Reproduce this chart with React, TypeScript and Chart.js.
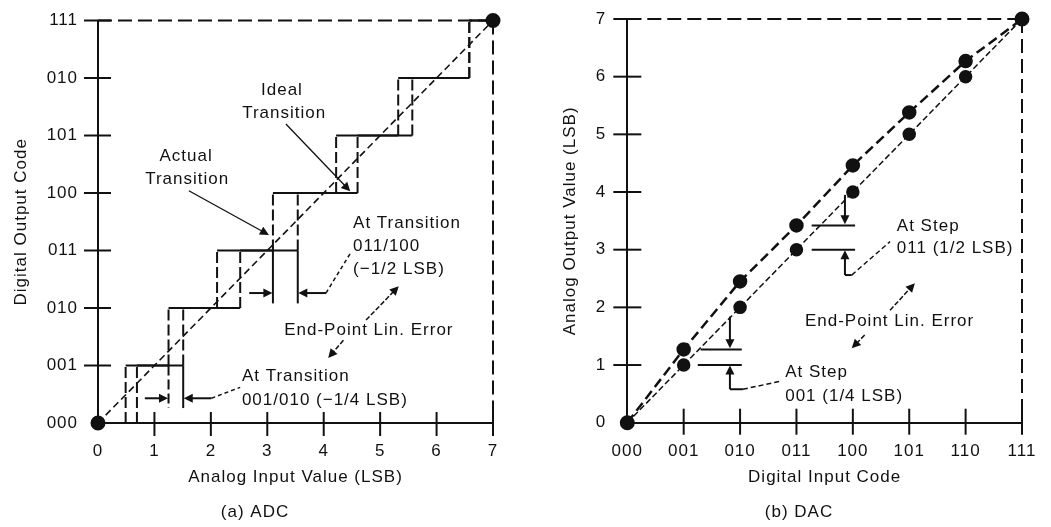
import React, { useEffect, useRef } from 'react';
import { Chart, registerables } from 'chart.js';

Chart.register(...registerables);

const INK = '#111111';
const FONT = '"Liberation Sans", Arial, sans-serif';

// ---------------- ADC panel data ----------------
const adcInputTicks = ['0', '1', '2', '3', '4', '5', '6', '7'];
const adcOutputCodes = ['000', '001', '010', '011', '100', '101', '010', '111'];
// code transition points (LSB) of the two staircases
const adcStairSolidTransitions = [0.49, 1.25, 2.11, 3.1, 4.22, 5.32, 6.58];
const adcStairDashedTransitions = [0.69, 1.51, 2.52, 3.54, 4.6, 5.57, 6.58];
const adcLineInput = [0, 7];
const adcLineOutput = [0, 7];
const adcFullScale = 7;

// ---------------- DAC panel data ----------------
const dacInputCodes = ['000', '001', '010', '011', '100', '101', '110', '111'];
const dacOutputTicks = ['0', '1', '2', '3', '4', '5', '6', '7'];
const dacIdealOutput = [0, 1, 2, 3, 4, 5, 6, 7];
const dacActualOutput = [0, 1.27, 2.45, 3.42, 4.46, 5.38, 6.27, 7];
const dacFullScale = 7;

type P = [number, number];
type Seg = { pts: P[]; head?: boolean; dash?: number[]; w?: number };
type Label = { text: string; x: number; y: number; align: CanvasTextAlign };

// annotation geometry in data units
const adcSegments: Seg[] = [
  { pts: [[1.25, 1], [1.25, 0.26]], dash: [10, 4] },
  { pts: [[1.51, 1], [1.51, 0.26]] },
  { pts: [[3.1, 3], [3.1, 2.08]] },
  { pts: [[3.54, 3], [3.54, 2.08]] },
  { pts: [[0.83, 0.43], [1.24, 0.43]], head: true },
  { pts: [[2.01, 0.43], [1.52, 0.43]], head: true },
  { pts: [[2.01, 0.43], [2.52, 0.62]], dash: [4, 3], w: 1.5 },
  { pts: [[2.68, 2.26], [3.09, 2.26]], head: true },
  { pts: [[4.04, 2.26], [3.55, 2.26]], head: true },
  { pts: [[4.04, 2.26], [4.49, 2.98]], dash: [4, 3], w: 1.5 },
  { pts: [[3.33, 5.2], [4.47, 4.03]], head: true, w: 1.3 },
  { pts: [[1.61, 4.04], [3.03, 3.27]], head: true, w: 1.3 },
  { pts: [[4.75, 1.79], [5.33, 2.38]], head: true, w: 1.5, dash: [5, 2] },
  { pts: [[4.35, 1.44], [4.08, 1.13]], head: true, w: 1.5, dash: [5, 2] },
];
const adcLabels: Label[] = [
  { text: 'Ideal', x: 3.26, y: 5.79, align: 'center' },
  { text: 'Transition', x: 3.3, y: 5.39, align: 'center' },
  { text: 'Actual', x: 1.56, y: 4.63, align: 'center' },
  { text: 'Transition', x: 1.58, y: 4.23, align: 'center' },
  { text: 'At Transition', x: 4.52, y: 3.48, align: 'left' },
  { text: '011/100', x: 4.52, y: 3.07, align: 'left' },
  { text: '(\u22121/2 LSB)', x: 4.52, y: 2.67, align: 'left' },
  { text: 'End-Point Lin. Error', x: 3.3, y: 1.62, align: 'left' },
  { text: 'At Transition', x: 2.55, y: 0.81, align: 'left' },
  { text: '001/010 (\u22121/4 LSB)', x: 2.55, y: 0.4, align: 'left' },
];

const dacSegments: Seg[] = [
  { pts: [[1.82, 1.84], [1.82, 1.29]], head: true },
  { pts: [[1.3, 1.27], [2.03, 1.27]] },
  { pts: [[1.25, 1.0], [2.03, 1.0]] },
  { pts: [[1.82, 0.58], [1.82, 0.99]], head: true },
  { pts: [[1.82, 0.58], [2.05, 0.58]] },
  { pts: [[2.05, 0.58], [2.72, 0.72]], dash: [5, 3], w: 1.5 },
  { pts: [[3.86, 3.95], [3.86, 3.44]], head: true },
  { pts: [[3.27, 3.42], [4.04, 3.42]] },
  { pts: [[3.27, 3.0], [4.04, 3.0]] },
  { pts: [[3.86, 2.56], [3.86, 2.99]], head: true },
  { pts: [[3.86, 2.56], [3.98, 2.56]] },
  { pts: [[3.98, 2.56], [4.66, 3.14]], dash: [5, 3], w: 1.5 },
  { pts: [[4.66, 1.95], [5.1, 2.42]], head: true, w: 1.5, dash: [5, 2] },
  { pts: [[4.21, 1.52], [3.98, 1.29]], head: true, w: 1.5, dash: [5, 2] },
];
const dacLabels: Label[] = [
  { text: 'At Step', x: 4.78, y: 3.4, align: 'left' },
  { text: '011 (1/2 LSB)', x: 4.78, y: 3.03, align: 'left' },
  { text: 'End-Point Lin. Error', x: 3.15, y: 1.76, align: 'left' },
  { text: 'At Step', x: 2.8, y: 0.87, align: 'left' },
  { text: '001 (1/4 LSB)', x: 2.8, y: 0.46, align: 'left' },
];

const tickValues = [1, 2, 3, 4, 5, 6, 7];

function stairPoints(transitions: number[], end: number) {
  const pts: { x: number; y: number }[] = [];
  transitions.forEach((t, i) => {
    pts.push({ x: t, y: i });
    pts.push({ x: t, y: i + 1 });
  });
  pts.push({ x: end, y: transitions.length });
  return pts;
}

const diagramPlugin = {
  id: 'diagram',
  beforeDraw(chart: any) {
    (chart.ctx as any).letterSpacing = '1px';
  },
  afterDatasetsDraw(chart: any, _args: any, opts: any) {
    const { ctx, chartArea } = chart;
    const xs = chart.scales.x;
    const ys = chart.scales.y;
    const px = (v: number) => xs.getPixelForValue(v);
    const py = (v: number) => ys.getPixelForValue(v);
    ctx.save();
    ctx.strokeStyle = INK;
    ctx.fillStyle = INK;
    ctx.lineCap = 'butt';
    ctx.lineWidth = 2;
    ctx.setLineDash([]);
    // crossing ticks
    tickValues.forEach((v) => {
      const y = py(v);
      ctx.beginPath();
      ctx.moveTo(chartArea.left - opts.yOut, y);
      ctx.lineTo(chartArea.left + opts.yIn, y);
      ctx.stroke();
      const x = px(v);
      ctx.beginPath();
      ctx.moveTo(x, chartArea.bottom - opts.xIn);
      ctx.lineTo(x, chartArea.bottom + opts.xOut);
      ctx.stroke();
    });
    // annotation segments / arrows
    (opts.segments as Seg[]).forEach((seg) => {
      const pts = seg.pts.map(([a, b]) => [px(a), py(b)]);
      ctx.lineWidth = seg.w ?? 2;
      ctx.setLineDash(seg.dash ?? []);
      const n = pts.length;
      const last = pts[n - 1];
      let ang = 0;
      const headLen = 9;
      if (seg.head) {
        const prev = pts[n - 2];
        ang = Math.atan2(last[1] - prev[1], last[0] - prev[0]);
      }
      ctx.beginPath();
      ctx.moveTo(pts[0][0], pts[0][1]);
      for (let i = 1; i < n; i++) {
        if (seg.head && i === n - 1) {
          ctx.lineTo(last[0] - Math.cos(ang) * headLen * 0.8, last[1] - Math.sin(ang) * headLen * 0.8);
        } else {
          ctx.lineTo(pts[i][0], pts[i][1]);
        }
      }
      ctx.stroke();
      if (seg.head) {
        ctx.setLineDash([]);
        const hw = 4.5;
        const bx = last[0] - Math.cos(ang) * headLen;
        const by = last[1] - Math.sin(ang) * headLen;
        ctx.beginPath();
        ctx.moveTo(last[0], last[1]);
        ctx.lineTo(bx + Math.sin(ang) * hw, by - Math.cos(ang) * hw);
        ctx.lineTo(bx - Math.sin(ang) * hw, by + Math.cos(ang) * hw);
        ctx.closePath();
        ctx.fill();
      }
    });
    // labels
    ctx.setLineDash([]);
    ctx.font = `17px ${FONT}`;
    ctx.textBaseline = 'middle';
    (opts.labels as Label[]).forEach((l) => {
      ctx.textAlign = l.align;
      ctx.fillText(l.text, px(l.x), py(l.y));
    });
    ctx.textAlign = 'center';
    ctx.fillText(opts.caption.text, opts.caption.x, opts.caption.y);
    ctx.restore();
  },
};

function lineDs(data: { x: number; y: number }[], extra: any = {}) {
  return {
    data,
    showLine: true,
    borderColor: INK,
    backgroundColor: INK,
    borderWidth: 2,
    pointRadius: 0,
    clip: false as any,
    ...extra,
  };
}

function baseOptions(p: {
  xLabels: string[];
  yLabels: string[];
  xTitle: string;
  yTitle: string;
  yWidth: number;
  xHeight: number;
  padRight: number;
  padTop: number;
  yTitlePad: number;
  yTickPad: number;
  plugin: any;
}) {
  const tickFont = { family: FONT, size: 17 };
  const noPad = (s: any) => {
    s.paddingTop = 0;
    s.paddingBottom = 0;
    s.paddingLeft = 0;
    s.paddingRight = 0;
  };
  return {
    responsive: false,
    devicePixelRatio: 1,
    animation: false as const,
    layout: { padding: { left: 0, right: p.padRight, top: p.padTop, bottom: 0 } },
    plugins: {
      legend: { display: false },
      tooltip: { enabled: false },
      diagram: p.plugin,
    },
    scales: {
      x: {
        type: 'linear' as const,
        position: 'bottom' as const,
        min: 0,
        max: 7,
        grid: { display: false, drawTicks: false },
        border: { display: true, color: INK, width: 2 },
        ticks: {
          stepSize: 1,
          autoSkip: false,
          maxRotation: 0,
          padding: 18,
          color: INK,
          font: tickFont,
          callback: (v: any) => p.xLabels[Math.round(Number(v))] ?? '',
        },
        title: {
          display: true,
          text: p.xTitle,
          color: INK,
          font: tickFont,
          padding: { top: 0, bottom: 39 },
        },
        afterFit: (s: any) => {
          s.height = p.xHeight;
          noPad(s);
        },
      },
      y: {
        type: 'linear' as const,
        position: 'left' as const,
        min: 0,
        max: 7,
        grid: { display: false, drawTicks: false },
        border: { display: true, color: INK, width: 2 },
        ticks: {
          stepSize: 1,
          autoSkip: false,
          padding: p.yTickPad,
          color: INK,
          font: tickFont,
          callback: (v: any) => p.yLabels[Math.round(Number(v))] ?? '',
        },
        title: {
          display: true,
          text: p.yTitle,
          color: INK,
          font: tickFont,
          padding: { top: p.yTitlePad, bottom: 0 },
        },
        afterFit: (s: any) => {
          s.width = p.yWidth;
          noPad(s);
        },
      },
    },
  };
}

function makeAdc(canvas: HTMLCanvasElement) {
  const dot = { pointRadius: 6.5, pointBackgroundColor: INK, pointBorderColor: INK, showLine: false };
  const vertDash = (dash: number[]) => ({
    borderDash: (ctx: any) => (ctx.p0.parsed.x === ctx.p1.parsed.x ? dash : []),
  });
  return new Chart(canvas, {
    type: 'scatter',
    data: {
      datasets: [
        lineDs([{ x: 0, y: adcFullScale }, { x: adcFullScale, y: adcFullScale }], { borderDash: [14, 6] }),
        lineDs([{ x: adcFullScale, y: adcFullScale }, { x: adcFullScale, y: 0 }], { borderDash: [14, 6] }),
        lineDs(
          adcLineInput.map((x, i) => ({ x, y: adcLineOutput[i] })),
          { borderDash: [7, 4], borderWidth: 1.6 }
        ),
        lineDs(stairPoints(adcStairDashedTransitions, adcFullScale), { segment: vertDash([11, 4]) }),
        lineDs(stairPoints(adcStairSolidTransitions, adcFullScale), { segment: vertDash([11, 4]) }),
        lineDs(adcLineInput.map((x, i) => ({ x, y: adcLineOutput[i] })), dot),
      ] as any,
    },
    options: baseOptions({
      xLabels: adcInputTicks,
      yLabels: adcOutputCodes,
      xTitle: 'Analog Input Value (LSB)',
      yTitle: 'Digital Output Code',
      yWidth: 98,
      xHeight: 104,
      padRight: 32,
      padTop: 20.5,
      yTitlePad: 11,
      yTickPad: 20,
      plugin: {
        yOut: 14,
        yIn: 13,
        xIn: 11,
        xOut: 13,
        segments: adcSegments,
        labels: adcLabels,
        caption: { text: '(a) ADC', x: 255, y: 512 },
      },
    }) as any,
    plugins: [diagramPlugin],
  });
}

function makeDac(canvas: HTMLCanvasElement) {
  const markerR = dacIdealOutput.map((_, i) => (i === 0 || i === dacIdealOutput.length - 1 ? 0 : 6));
  return new Chart(canvas, {
    type: 'scatter',
    data: {
      datasets: [
        lineDs([{ x: 0, y: dacFullScale }, { x: dacFullScale, y: dacFullScale }], { borderDash: [14, 6] }),
        lineDs([{ x: dacFullScale, y: dacFullScale }, { x: dacFullScale, y: 0 }], { borderDash: [14, 6] }),
        lineDs(
          dacIdealOutput.map((y, i) => ({ x: i, y })),
          { borderDash: [6, 3], borderWidth: 1.5, pointRadius: markerR, pointBackgroundColor: INK, pointBorderColor: INK }
        ),
        lineDs(
          dacActualOutput.map((y, i) => ({ x: i, y })),
          { borderDash: [10, 5], borderWidth: 2.5, pointRadius: markerR, pointBackgroundColor: INK, pointBorderColor: INK }
        ),
        lineDs(
          [
            { x: 0, y: dacIdealOutput[0] },
            { x: dacFullScale, y: dacIdealOutput[dacIdealOutput.length - 1] },
          ],
          { pointRadius: 6.5, pointBackgroundColor: INK, pointBorderColor: INK, showLine: false }
        ),
      ] as any,
    },
    options: baseOptions({
      xLabels: dacInputCodes,
      yLabels: dacOutputTicks,
      xTitle: 'Digital Input Code',
      yTitle: 'Analog Output Value (LSB)',
      yWidth: 102.3,
      xHeight: 104.3,
      padRight: 29,
      padTop: 19,
      yTitlePad: 35,
      yTickPad: 21,
      plugin: {
        yOut: 14,
        yIn: 14,
        xIn: 14,
        xOut: 12,
        segments: dacSegments,
        labels: dacLabels,
        caption: { text: '(b) DAC', x: 274, y: 512 },
      },
    }) as any,
    plugins: [diagramPlugin],
  });
}

export default function App() {
  const leftRef = useRef<HTMLCanvasElement>(null);
  const rightRef = useRef<HTMLCanvasElement>(null);
  useEffect(() => {
    const a = makeAdc(leftRef.current!);
    const b = makeDac(rightRef.current!);
    return () => {
      a.destroy();
      b.destroy();
    };
  }, []);
  return (
    <div style={{ position: 'absolute', left: 0, top: 0, width: 1051, height: 527, background: '#fff', overflow: 'hidden' }}>
      <canvas ref={leftRef} width={525} height={527} style={{ position: 'absolute', left: 0, top: 0, width: 525, height: 527 }} />
      <canvas ref={rightRef} width={526} height={527} style={{ position: 'absolute', left: 525, top: 0, width: 526, height: 527 }} />
    </div>
  );
}
